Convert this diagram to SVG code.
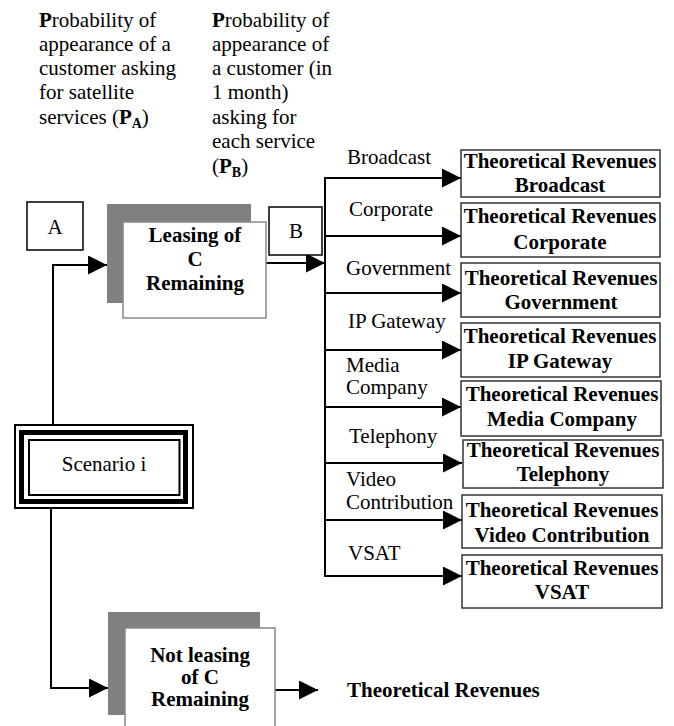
<svg xmlns="http://www.w3.org/2000/svg" width="674" height="726" viewBox="0 0 674 726">
<defs>
<style>
text{font-family:"Liberation Serif","Times New Roman",serif;font-size:21px;fill:#000}
.b{font-weight:bold}
.m{text-anchor:middle}
.ln{stroke:#000;stroke-width:2;fill:none}
.box{fill:#fff;stroke:#000;stroke-width:1.5}
.rbox{fill:#fff;stroke:#333;stroke-width:1.5}
.sh{fill:#808080}
.wb{fill:#fff;stroke:#888;stroke-width:1.5}
</style>
<marker id="ah" markerUnits="userSpaceOnUse" markerWidth="20" markerHeight="20" refX="19" refY="9.5" orient="auto">
<path d="M0,0 L19,9.5 L0,19 z" fill="#000"/>
</marker>
</defs>
<rect width="674" height="726" fill="#fff"/>

<g id="label-pa">
<text x="39" y="27"><tspan class="b">P</tspan>robability of</text>
<text x="39" y="51">appearance of a</text>
<text x="39" y="75">customer asking</text>
<text x="39" y="99">for satellite</text>
<text x="39" y="124">services (<tspan class="b">P</tspan><tspan class="b" font-size="14" dy="4">A</tspan><tspan dy="-4">)</tspan></text>
</g>
<g id="label-pb">
<text x="212" y="27"><tspan class="b">P</tspan>robability of</text>
<text x="212" y="51">appearance of</text>
<text x="212" y="75">a customer (in</text>
<text x="212" y="99">1 month)</text>
<text x="212" y="124">asking for</text>
<text x="212" y="148">each service</text>
<text x="212" y="173">(<tspan class="b">P</tspan><tspan class="b" font-size="14" dy="4">B</tspan><tspan dy="-4">)</tspan></text>
</g>

<g id="connectors">
<polyline class="ln" points="53,424 53,265 107,265" marker-end="url(#ah)"/>
<polyline class="ln" points="51,509 51,688 108,688" marker-end="url(#ah)"/>
<line class="ln" x1="266" y1="263" x2="325" y2="263" marker-end="url(#ah)"/>
<line class="ln" x1="325" y1="177" x2="325" y2="577"/>
<line class="ln" x1="324" y1="178" x2="461" y2="178" marker-end="url(#ah)"/>
<line class="ln" x1="324" y1="236" x2="461" y2="236" marker-end="url(#ah)"/>
<line class="ln" x1="324" y1="293" x2="461" y2="293" marker-end="url(#ah)"/>
<line class="ln" x1="324" y1="350" x2="461" y2="350" marker-end="url(#ah)"/>
<line class="ln" x1="324" y1="407" x2="461" y2="407" marker-end="url(#ah)"/>
<line class="ln" x1="324" y1="463" x2="462" y2="463" marker-end="url(#ah)"/>
<line class="ln" x1="324" y1="520" x2="462" y2="520" marker-end="url(#ah)"/>
<line class="ln" x1="324" y1="576" x2="462" y2="576" marker-end="url(#ah)"/>
<line class="ln" x1="275" y1="690" x2="318" y2="690" marker-end="url(#ah)"/>
</g>

<g id="service-labels">
<text x="347" y="164">Broadcast</text>
<text x="349" y="216">Corporate</text>
<text x="346" y="275">Government</text>
<text x="348" y="328">IP Gateway</text>
<text x="346" y="372">Media</text>
<text x="346" y="394">Company</text>
<text x="349" y="443">Telephony</text>
<text x="346" y="486">Video</text>
<text x="346" y="509">Contribution</text>
<text x="348" y="560">VSAT</text>
</g>

<g id="node-a">
<rect class="box" x="27" y="202" width="56" height="48"/>
<text class="m" x="55" y="234">A</text>
</g>

<g id="node-b">
<rect class="box" x="269" y="207" width="53" height="48"/>
<text class="m" x="296" y="238">B</text>
</g>

<g id="node-leasing">
<rect class="sh" x="107" y="204" width="144" height="99"/>
<rect class="wb" x="123" y="222" width="143" height="96"/>
<text class="b m" x="195" y="242">Leasing of</text>
<text class="b m" x="195" y="266">C</text>
<text class="b m" x="195" y="290">Remaining</text>
</g>

<g id="node-scenario">
<rect x="15" y="425" width="178" height="83" fill="#fff" stroke="#000" stroke-width="2"/>
<rect x="21.5" y="432.5" width="164" height="69" fill="none" stroke="#000" stroke-width="5"/>
<rect x="29" y="440" width="150.5" height="55" fill="none" stroke="#000" stroke-width="2"/>
<text class="m" x="104" y="471">Scenario i</text>
</g>

<g id="node-not-leasing">
<rect class="sh" x="108" y="612" width="152" height="103"/>
<rect class="wb" x="125" y="628" width="150" height="100"/>
<text class="b m" x="200" y="662" font-size="20">Not leasing</text>
<text class="b m" x="200" y="684" font-size="20">of C</text>
<text class="b m" x="200" y="706" font-size="20">Remaining</text>
</g>

<g id="node-rev-total">
<text class="b" x="347" y="697">Theoretical Revenues</text>
</g>

<g id="node-rev-broadcast">
<rect class="rbox" x="461" y="150" width="199" height="47"/>
<text class="b m" x="560" y="168">Theoretical Revenues</text>
<text class="b m" x="560" y="192">Broadcast</text>
</g>
<g id="node-rev-corporate">
<rect class="rbox" x="461" y="203" width="199" height="54"/>
<text class="b m" x="560" y="223">Theoretical Revenues</text>
<text class="b m" x="560" y="249">Corporate</text>
</g>
<g id="node-rev-government">
<rect class="rbox" x="461" y="263" width="199" height="54"/>
<text class="b m" x="561" y="285">Theoretical Revenues</text>
<text class="b m" x="561" y="309">Government</text>
</g>
<g id="node-rev-ipgateway">
<rect class="rbox" x="461" y="323" width="199" height="54"/>
<text class="b m" x="560" y="343">Theoretical Revenues</text>
<text class="b m" x="560" y="368">IP Gateway</text>
</g>
<g id="node-rev-media">
<rect class="rbox" x="461" y="381" width="200" height="55"/>
<text class="b m" x="562" y="401">Theoretical Revenues</text>
<text class="b m" x="562" y="426">Media Company</text>
</g>
<g id="node-rev-telephony">
<rect class="rbox" x="463" y="440" width="200" height="48"/>
<text class="b m" x="563" y="457">Theoretical Revenues</text>
<text class="b m" x="563" y="481">Telephony</text>
</g>
<g id="node-rev-video">
<rect class="rbox" x="462" y="495" width="200" height="53"/>
<text class="b m" x="562" y="517">Theoretical Revenues</text>
<text class="b m" x="562" y="542">Video Contribution</text>
</g>
<g id="node-rev-vsat">
<rect class="rbox" x="462" y="555" width="200" height="53"/>
<text class="b m" x="562" y="575">Theoretical Revenues</text>
<text class="b m" x="562" y="599">VSAT</text>
</g>
</svg>
